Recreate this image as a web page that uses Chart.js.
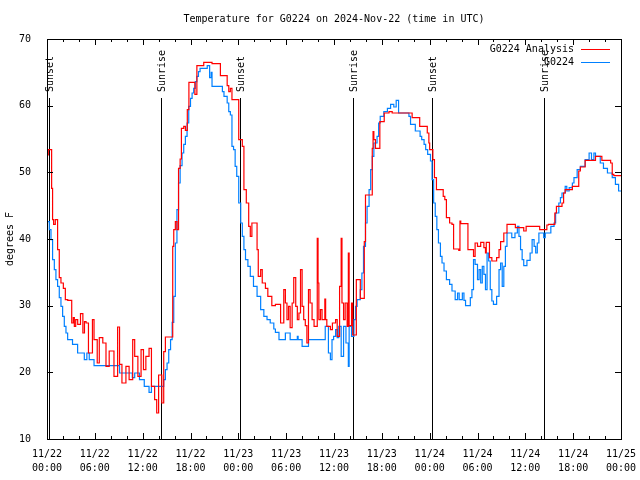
<!DOCTYPE html>
<html>
<head>
<meta charset="utf-8">
<script src="https://cdn.jsdelivr.net/npm/chart.js@4"></script>
<style>
  html, body { margin: 0; padding: 0; background: #fff; }
  canvas { display: block; }
</style>
</head>
<body>
<canvas id="temp-chart" width="640" height="480"></canvas>
<script>
// Chart data (hours since 11/22 00:00 UTC, degrees F)
const anaHours = [0.0, 0.16, 0.58, 0.7, 0.83, 1.04, 1.33, 1.54, 1.75, 2.05, 2.3, 2.6, 3.1, 3.3, 3.43, 3.6, 3.85, 4.2, 4.5, 4.7,
    4.9, 5.2, 5.7, 5.9, 6.3, 6.56, 7.0, 7.4, 7.8, 8.4, 8.86, 9.1, 9.4, 9.9, 10.3, 10.75, 11.0, 11.4, 11.8, 12.1,
    12.4, 12.8, 13.1, 13.5, 13.76, 14.0, 14.4, 14.64, 14.85, 15.77, 15.9, 16.1, 16.3, 16.5, 16.7, 16.86, 17.15, 17.36, 17.6, 17.8,
    18.55, 18.8, 19.66, 20.7, 21.75, 22.6, 22.8, 23.0, 23.2, 24.05, 24.5, 24.7, 25.0, 25.3, 25.5, 25.7, 26.35, 26.5, 26.8, 27.0,
    27.4, 27.7, 28.2, 28.65, 29.3, 29.7, 29.9, 30.1, 30.3, 30.5, 30.75, 30.95, 31.2, 31.4, 31.6, 31.8, 32.0, 32.2, 32.4, 32.6,
    32.8, 33.0, 33.25, 33.5, 33.9, 34.0, 34.1, 34.3, 34.5, 34.85, 34.95, 35.1, 35.55, 35.8, 36.2, 36.4, 36.7, 36.9, 37.0, 37.2,
    37.4, 37.65, 37.8, 37.9, 38.2, 38.35, 38.8, 39.3, 39.8, 39.95, 40.8, 40.9, 41.0, 41.2, 41.75, 42.3, 42.9, 43.3, 45.8, 46.75,
    47.7, 47.9, 48.0, 48.4, 48.6, 48.85, 49.7, 49.9, 50.1, 50.5, 50.8, 51.0, 51.65, 51.8, 51.9, 52.8, 53.5, 53.7, 54.0, 54.4,
    54.8, 55.0, 55.1, 55.5, 55.8, 56.4, 56.7, 56.9, 57.3, 57.7, 58.75, 59.8, 60.1, 61.8, 62.7, 62.9, 63.7, 63.9, 64.6, 64.8,
    65.0, 65.9, 66.7, 66.9, 67.5, 68.8, 69.6, 70.7, 70.9, 71.1, 72.0];
const anaTemps = [52.6, 53.4, 47.6, 42.9, 42.2, 42.9, 38.4, 34.2, 33.4, 32.6, 30.9, 30.8, 27.4, 28.2, 26.9, 27.9, 27.2, 28.8, 25.9, 27.6,
    27.4, 22.9, 27.9, 24.9, 21.4, 25.2, 24.4, 20.9, 23.2, 19.4, 26.8, 21.2, 18.4, 20.9, 18.9, 24.9, 22.4, 19.4, 23.4, 20.4,
    22.4, 23.6, 17.9, 15.9, 13.9, 19.6, 15.4, 23.1, 25.3, 38.9, 41.4, 42.6, 41.4, 50.6, 52.0, 56.6, 56.9, 56.3, 59.4, 63.5,
    61.7, 66.0, 66.5, 66.3, 64.5, 63.0, 62.1, 62.6, 60.9, 54.9, 53.9, 47.4, 45.4, 41.9, 40.4, 42.4, 38.4, 34.4, 35.4, 33.4,
    32.6, 31.4, 30.0, 30.2, 27.4, 32.4, 30.4, 27.9, 29.9, 26.7, 30.4, 34.2, 29.9, 27.9, 28.9, 35.4, 29.9, 27.9, 27.0, 24.4,
    32.4, 30.4, 27.9, 26.9, 40.1, 33.4, 27.9, 29.4, 27.9, 31.0, 27.9, 26.9, 26.4, 27.4, 27.9, 25.4, 32.9, 40.1, 30.4, 27.9,
    30.4, 26.9, 37.9, 27.0, 30.4, 25.6, 33.9, 31.1, 39.6, 46.6, 53.6, 56.1, 54.9, 53.6, 57.6, 58.9, 59.1, 58.9, 58.2, 56.9,
    55.9, 54.4, 53.4, 51.9, 49.2, 47.4, 46.4, 45.9, 43.2, 42.4, 42.2, 38.5, 38.3, 42.7, 42.3, 38.4, 37.4, 39.4, 38.9, 39.5,
    38.7, 37.9, 39.5, 37.2, 36.7, 37.2, 38.4, 39.6, 40.9, 42.2, 41.7, 41.2, 41.9, 41.4, 42.1, 42.2, 43.9, 44.9, 45.4, 46.9,
    47.4, 47.9, 50.2, 50.8, 51.8, 52.4, 51.8, 51.4, 49.7, 49.5, 49.5];

const obsHours = [0.0, 0.29, 0.5, 0.7, 0.92, 1.12, 1.33, 1.54, 1.75, 1.96, 2.17, 2.38, 2.59, 3.2, 3.84, 4.68, 5.0, 5.3, 5.9, 9.1,
    10.7, 11.0, 11.6, 12.2, 12.8, 13.1, 14.64, 14.85, 15.06, 15.27, 15.5, 15.7, 15.9, 16.1, 16.3, 16.5, 16.7, 16.94, 17.15, 17.36,
    17.57, 17.78, 18.0, 18.2, 18.4, 18.6, 18.8, 19.0, 19.2, 20.1, 20.4, 20.6, 20.7, 22.0, 22.2, 22.6, 22.8, 23.0, 23.2, 23.4,
    23.6, 23.8, 24.05, 24.3, 24.5, 24.7, 24.9, 25.2, 25.5, 25.9, 26.35, 26.8, 27.2, 27.6, 28.0, 28.45, 28.65, 29.1, 29.9, 30.5,
    31.4, 31.5, 32.0, 32.8, 34.9, 35.3, 35.55, 35.75, 35.95, 36.2, 36.4, 36.6, 36.9, 37.2, 37.5, 37.8, 37.9, 38.2, 38.5, 38.7,
    38.9, 39.3, 39.5, 39.7, 39.95, 40.15, 40.4, 40.6, 40.8, 41.0, 41.4, 41.6, 41.8, 42.25, 42.7, 43.1, 43.5, 43.8, 44.1, 45.4,
    45.6, 46.2, 46.8, 47.0, 47.3, 47.5, 47.75, 48.1, 48.3, 48.5, 48.7, 48.9, 49.1, 49.35, 49.55, 49.8, 50.1, 50.5, 50.8, 51.2,
    51.5, 51.7, 52.1, 52.3, 52.5, 53.1, 53.3, 53.5, 53.7, 54.0, 54.2, 54.4, 54.6, 54.8, 55.0, 55.2, 55.4, 55.6, 55.8, 56.0,
    56.4, 56.7, 56.9, 57.1, 57.3, 57.5, 57.7, 58.3, 58.7, 59.0, 59.2, 59.4, 59.6, 59.8, 60.2, 60.6, 60.85, 61.1, 61.3, 61.5,
    61.7, 62.3, 62.5, 63.2, 63.6, 63.8, 64.2, 64.4, 64.6, 65.0, 65.2, 65.5, 65.9, 66.1, 66.5, 66.9, 67.5, 68.0, 68.3, 68.6,
    68.8, 69.4, 69.8, 70.3, 70.9, 71.3, 71.7, 72.0];
const obsTemps = [42.6, 41.4, 39.9, 36.9, 35.4, 33.9, 32.9, 31.2, 29.9, 28.4, 26.9, 25.9, 24.9, 24.2, 22.9, 21.9, 22.9, 21.9, 21.0, 19.9,
    19.2, 19.9, 18.9, 17.9, 17.0, 17.9, 18.9, 20.4, 21.4, 23.4, 24.9, 27.5, 31.4, 39.4, 44.4, 48.4, 51.0, 52.9, 54.2, 55.4,
    57.4, 59.9, 61.1, 61.9, 62.6, 63.6, 64.4, 65.1, 65.6, 66.0, 64.2, 65.0, 62.9, 62.1, 61.4, 60.4, 59.1, 58.6, 53.9, 53.4,
    50.9, 49.4, 45.4, 42.4, 40.4, 38.4, 36.9, 35.9, 34.4, 32.9, 31.4, 29.4, 28.4, 27.9, 27.4, 26.5, 26.0, 24.9, 25.9, 24.9,
    25.4, 24.9, 23.9, 24.9, 26.9, 22.9, 21.9, 24.9, 25.4, 26.4, 25.2, 26.9, 22.4, 26.9, 24.4, 20.9, 26.9, 25.4, 27.9, 29.9,
    30.9, 32.4, 34.9, 38.9, 42.4, 44.9, 47.4, 50.4, 52.4, 54.4, 55.4, 57.4, 58.4, 59.1, 59.6, 60.2, 59.8, 60.8, 58.9, 58.4,
    57.2, 56.2, 55.4, 54.9, 54.2, 53.4, 52.7, 51.7, 48.9, 45.4, 43.4, 41.4, 39.4, 37.4, 36.4, 35.2, 33.9, 33.2, 32.2, 30.9,
    31.9, 30.9, 31.9, 30.8, 30.0, 31.2, 32.4, 36.9, 36.2, 33.9, 35.4, 33.4, 35.9, 34.7, 32.4, 37.9, 36.7, 32.4, 30.7, 30.2,
    31.4, 35.4, 36.4, 32.9, 35.9, 38.9, 40.9, 40.2, 40.9, 41.9, 40.4, 38.4, 36.9, 36.0, 36.8, 37.9, 39.9, 38.9, 37.9, 39.4,
    40.9, 40.2, 40.9, 41.9, 42.4, 43.9, 45.4, 46.2, 46.9, 47.9, 47.2, 47.7, 48.4, 49.2, 50.4, 50.9, 51.9, 52.9, 51.9, 52.9,
    52.4, 51.4, 50.6, 49.9, 49.2, 48.2, 47.2, 47.2];

// Sunrise / sunset times (hours since start)
const sunsetHours = [0.2, 24.17, 48.26];
const sunriseHours = [14.25, 38.34, 62.31];

// Axis ticks
const xTickLabels = [
    ['11/22', '00:00'], ['11/22', '06:00'], ['11/22', '12:00'], ['11/22', '18:00'],
    ['11/23', '00:00'], ['11/23', '06:00'], ['11/23', '12:00'], ['11/23', '18:00'],
    ['11/24', '00:00'], ['11/24', '06:00'], ['11/24', '12:00'], ['11/24', '18:00'],
    ['11/25', '00:00']
];
const yTicks = [10, 20, 30, 40, 50, 60, 70];

const chartTitle = 'Temperature for G0224 on 2024-Nov-22 (time in UTC)';
const yAxisLabel = 'degrees F';
const seriesNames = ['G0224 Analysis', 'G0224'];

const FONT = '10px "DejaVu Sans Mono", monospace';

function toPoints(hours, temps) {
    return hours.map((h, i) => ({ x: h, y: temps[i] }));
}

// Gnuplot style frame: border, inward ticks, sun lines, legend, titles
const gnuplotFrame = {
    id: 'gnuplotFrame',
    beforeDatasetsDraw(chart) {
        const { ctx, chartArea: area, scales: { x } } = chart;
        ctx.save();
        ctx.strokeStyle = '#000';
        ctx.lineWidth = 1;
        ctx.fillStyle = '#000';
        ctx.font = FONT;
        const events = sunsetHours.map(h => [h, 'Sunset']).concat(sunriseHours.map(h => [h, 'Sunrise']));
        events.forEach(([h, label]) => {
            const px = Math.round(x.getPixelForValue(h)) + 0.5;
            ctx.beginPath();
            ctx.moveTo(px, 98);
            ctx.lineTo(px, area.bottom);
            ctx.stroke();
            ctx.save();
            ctx.translate(px + 1, 92);
            ctx.rotate(-Math.PI / 2);
            ctx.textAlign = 'left';
            ctx.textBaseline = 'middle';
            ctx.fillText(label, 0, 0);
            ctx.restore();
        });
        ctx.restore();
    },
    afterDraw(chart) {
        const { ctx, chartArea: area, scales: { x, y } } = chart;
        ctx.save();
        ctx.strokeStyle = '#000';
        ctx.lineWidth = 1;
        ctx.strokeRect(area.left + 0.5, area.top + 0.5, area.right - area.left, area.bottom - area.top);

        // x ticks every 2 hours, major every 6
        ctx.beginPath();
        for (let h = 0; h <= 72; h += 2) {
            const px = Math.round(x.getPixelForValue(h)) + 0.5;
            const len = h % 6 === 0 ? 6 : 3;
            ctx.moveTo(px, area.bottom);
            ctx.lineTo(px, area.bottom - len);
            ctx.moveTo(px, area.top);
            ctx.lineTo(px, area.top + len);
        }
        // y ticks
        yTicks.forEach(v => {
            const py = Math.round(y.getPixelForValue(v)) + 0.5;
            ctx.moveTo(area.left, py);
            ctx.lineTo(area.left + 6, py);
            ctx.moveTo(area.right, py);
            ctx.lineTo(area.right - 6, py);
        });
        ctx.stroke();

        ctx.fillStyle = '#000';
        ctx.font = FONT;

        // Title
        ctx.textAlign = 'center';
        ctx.textBaseline = 'middle';
        ctx.fillText(chartTitle, (area.left + area.right) / 2, 19);

        // Y axis label
        ctx.save();
        ctx.translate(10, (area.top + area.bottom) / 2);
        ctx.rotate(-Math.PI / 2);
        ctx.fillText(yAxisLabel, 0, 0);
        ctx.restore();

        // Legend (text right aligned, line sample on the right)
        chart.data.datasets.forEach((ds, i) => {
            const ly = 49 + i * 13;
            ctx.textAlign = 'right';
            ctx.fillStyle = '#000';
            ctx.fillText(ds.label, 574, ly);
            ctx.strokeStyle = ds.borderColor;
            ctx.beginPath();
            ctx.moveTo(581, ly + 0.5);
            ctx.lineTo(610, ly + 0.5);
            ctx.stroke();
        });
        ctx.restore();
    }
};

function initTempChart() {
    const canvas = document.getElementById('temp-chart');
    new Chart(canvas, {
        type: 'line',
        data: {
            datasets: [{
                label: seriesNames[0],
                data: toPoints(anaHours, anaTemps),
                borderColor: '#ff0000',
                borderWidth: 1.2,
                stepped: true,
                pointRadius: 0,
                fill: false
            }, {
                label: seriesNames[1],
                data: toPoints(obsHours, obsTemps),
                borderColor: '#0080ff',
                borderWidth: 1.2,
                stepped: true,
                pointRadius: 0,
                fill: false
            }]
        },
        options: {
            responsive: false,
            animation: false,
            devicePixelRatio: 1,
            layout: { padding: { top: 39, right: 19, left: 0, bottom: 0 } },
            plugins: {
                legend: { display: false },
                tooltip: { enabled: false },
                title: { display: false }
            },
            scales: {
                x: {
                    type: 'linear',
                    min: 0,
                    max: 72,
                    afterFit: s => { s.height = 41; s.paddingLeft = 0; s.paddingRight = 0; },
                    afterBuildTicks: s => { s.ticks = xTickLabels.map((_, i) => ({ value: i * 6 })); },
                    grid: { display: false },
                    border: { display: false },
                    ticks: {
                        color: '#000',
                        font: { family: '"DejaVu Sans Mono", monospace', size: 10, lineHeight: 1.4 },
                        padding: 0,
                        maxRotation: 0,
                        autoSkip: false,
                        callback: (value, index) => xTickLabels[index]
                    }
                },
                y: {
                    min: 10,
                    max: 70,
                    afterFit: s => { s.width = 47; s.paddingTop = 0; s.paddingBottom = 0; },
                    afterBuildTicks: s => { s.ticks = yTicks.map(v => ({ value: v })); },
                    grid: { display: false },
                    border: { display: false },
                    ticks: {
                        color: '#000',
                        font: { family: '"DejaVu Sans Mono", monospace', size: 10 },
                        padding: 8
                    }
                }
            }
        },
        plugins: [gnuplotFrame]
    });
}

document.addEventListener('DOMContentLoaded', initTempChart);
</script>
</body>
</html>
